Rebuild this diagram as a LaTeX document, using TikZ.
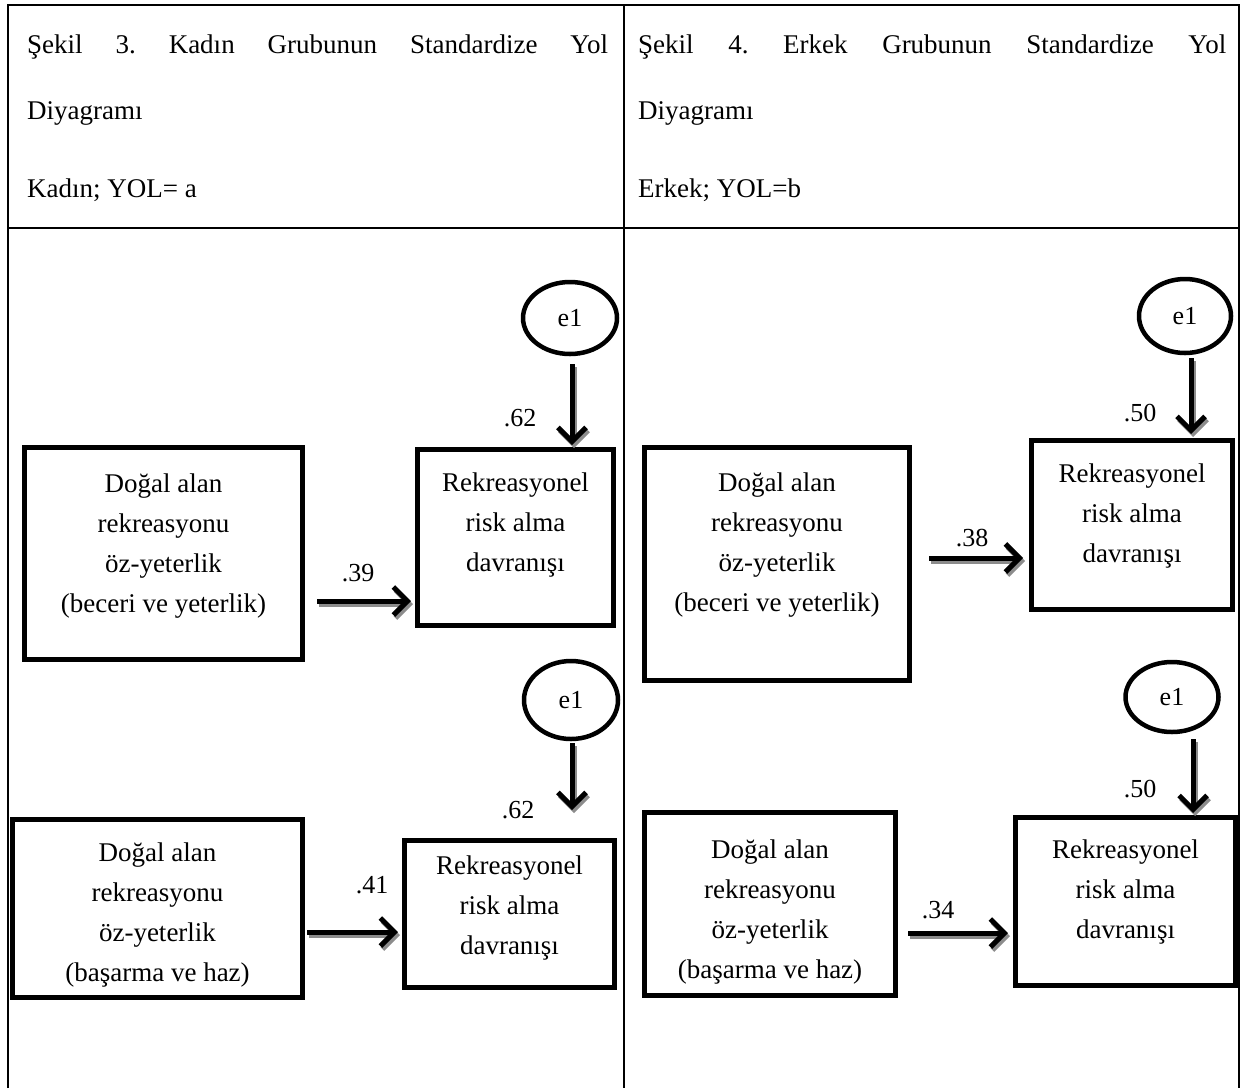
\documentclass[tikz,border=0pt]{standalone}
\usepackage{fontspec}
\setmainfont{Liberation Serif}
\usetikzlibrary{arrows.meta,shapes.geometric}
\newcommand\sarrow[2]{%
  \draw[shadowarr] #1 -- #2;
  \draw[mainarr] #1 -- #2;}
\begin{document}
\begin{tikzpicture}[x=1pt,y=-1pt,
  tbl/.style={line width=2.4pt},
  box/.style={draw, line width=5pt, rectangle, inner sep=0pt},
  boxtext/.style={align=center, font=\fontsize{27}{40}\selectfont, inner sep=0pt},
  err/.style={draw, ellipse, line width=4.5pt, inner sep=0pt, font=\fontsize{26}{30}\selectfont},
  coef/.style={font=\fontsize{26}{30}\selectfont, inner sep=0pt},
  hdr/.style={font=\fontsize{27}{32}\selectfont, inner sep=0pt, anchor=base west},
  mainarr/.style={line width=5pt, -{Straight Barb[length=14pt,width=28pt]}},
  shadowarr/.style={mainarr, draw=black!45, transform canvas={shift={(2pt,-3pt)}}},
]
\useasboundingbox (0,0) rectangle (1241,1088);

% table
\draw[tbl] (8,1088) -- (8,5) -- (1239,5) -- (1239,1088);
\draw[tbl] (8,228) -- (1239,228);
\draw[tbl] (624,5) -- (624,1088);

% headers
\node[hdr] (hl1) at (27,53) {\hbox to 581pt{Şekil\hfill 3.\hfill Kadın\hfill Grubunun\hfill Standardize\hfill Yol}};
\node[hdr] (hl2) at (27,119) {Diyagramı};
\node[hdr] (hl3) at (27,197) {Kadın; YOL= a};
\node[hdr] (hr1) at (638,53) {\hbox to 588pt{Şekil\hfill 4.\hfill Erkek\hfill Grubunun\hfill Standardize\hfill Yol}};
\node[hdr] (hr2) at (638,119) {Diyagramı};
\node[hdr] (hr3) at (638,197) {Erkek; YOL=b};

% boxes
\node[box, minimum width=278pt, minimum height=212pt] (A1) at (163.5,553.5) {};
\node[box, minimum width=196pt, minimum height=176pt] (B1) at (515.5,537.5) {};
\node[box, minimum width=290pt, minimum height=178pt] (A2) at (157.5,908.5) {};
\node[box, minimum width=210pt, minimum height=147pt] (B2) at (509.5,914) {};
\node[box, minimum width=265pt, minimum height=233pt] (A3) at (777,564) {};
\node[box, minimum width=201pt, minimum height=169pt] (B3) at (1132,525) {};
\node[box, minimum width=251pt, minimum height=183pt] (A4) at (770,904) {};
\node[box, minimum width=220pt, minimum height=168pt] (B4) at (1125.5,901.5) {};

% box texts
\node[boxtext] (A1t) at (163.5,546.5) {Doğal alan\\rekreasyonu\\öz-yeterlik\\(beceri ve yeterlik)};
\node[boxtext] (B1t) at (515.5,525) {Rekreasyonel\\risk alma\\davranışı};
\node[boxtext] (A2t) at (157.5,915) {Doğal alan\\rekreasyonu\\öz-yeterlik\\(başarma ve haz)};
\node[boxtext] (B2t) at (509.5,907.5) {Rekreasyonel\\risk alma\\davranışı};
\node[boxtext] (A3t) at (777,545) {Doğal alan\\rekreasyonu\\öz-yeterlik\\(beceri ve yeterlik)};
\node[boxtext] (B3t) at (1132,516) {Rekreasyonel\\risk alma\\davranışı};
\node[boxtext] (A4t) at (770,911.5) {Doğal alan\\rekreasyonu\\öz-yeterlik\\(başarma ve haz)};
\node[boxtext] (B4t) at (1125.5,891.5) {Rekreasyonel\\risk alma\\davranışı};

% error terms
\node[err, minimum width=94pt, minimum height=72pt] (E1) at (570,318) {e1};
\node[err, minimum width=94pt, minimum height=78pt] (E2) at (571,700) {e1};
\node[err, minimum width=92pt, minimum height=74pt] (E3) at (1185,316) {e1};
\node[err, minimum width=93pt, minimum height=70pt] (E4) at (1172,697) {e1};

% coordinates
\coordinate (v1) at (572,445);
\coordinate (v2) at (572,810);
\coordinate (v3) at (1191,434);
\coordinate (v4) at (1193,813);
\coordinate (h1) at (0,601);
\coordinate (h2) at (0,932);
\coordinate (h3) at (0,558);
\coordinate (h4) at (0,933);

% vertical arrows
\sarrow{([yshift=-8pt]E1.south -| v1)}{(v1)}
\sarrow{([yshift=-2pt]E2.south -| v2)}{(v2)}
\sarrow{([yshift=-3pt]E3.south -| v3)}{(v3)}
\sarrow{([yshift=-5pt]E4.south -| v4)}{(v4)}

% horizontal arrows
\sarrow{([xshift=12pt]A1.east |- h1)}{([xshift=-4pt]B1.west |- h1)}
\sarrow{([xshift=2pt]A2.east |- h2)}{([xshift=-4pt]B2.west |- h2)}
\sarrow{([xshift=17pt]A3.east |- h3)}{([xshift=-6pt]B3.west |- h3)}
\sarrow{([xshift=10pt]A4.east |- h4)}{([xshift=-5pt]B4.west |- h4)}

% coefficients
\node[coef] (c1) at (358,573) {.39};
\node[coef] (c2) at (372,885) {.41};
\node[coef] (c3) at (972,538) {.38};
\node[coef] (c4) at (938,910) {.34};
\node[coef] (c5) at (520,418) {.62};
\node[coef] (c6) at (518,810) {.62};
\node[coef] (c7) at (1140,413) {.50};
\node[coef] (c8) at (1140,789) {.50};
\end{tikzpicture}
\end{document}
